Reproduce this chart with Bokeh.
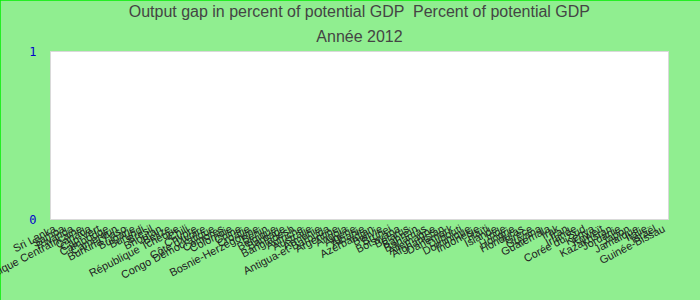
from bokeh.plotting import figure
from bokeh.models import Title, FixedTicker, ColumnDataSource, Range1d
from bokeh.embed import file_html
from bokeh.resources import INLINE

countries = [
    "Sri Lanka", "Samoa", "Rwanda", "République Centrafricaine", "Canada", "Cap-Vert",
    "Cambodge", "Cameroun", "Burkina Faso", "Bulgarie", "Burundi", "Brésil", "Bhoutan",
    "Belize", "République Tchèque", "Chili", "Chypre", "Côte d'Ivoire", "Congo Démocratique",
    "Comores", "Colombie", "Chine", "Croatie", "Bosnie-Herzégovine", "Bénin", "Belgique",
    "Barbade", "Bangladesh", "Autriche", "Australie", "Arménie", "Antigua-et-Barbuda",
    "Argentine", "Angola", "Algérie", "Albanie", "Azerbaïdjan", "Bolivie", "Brunei",
    "Botswana", "Bélarus", "Bahreïn", "Bahamas", "Allemagne", "Afghanistan", "Danemark",
    "Djibouti", "Dominique", "Indonésie", "Haïti", "Islande", "Inde", "Hongrie", "Honduras",
    "Grèce", "Guyana", "Guatemala", "Irak", "Iran", "Irlande", "Corée du Sud", "Kenya",
    "Koweït", "Kazakhstan", "Jordanie", "Japon", "Jamaïque", "Italie", "Israël",
    "Guinée-Bissau",
]
values = [0.0] * len(countries)

title_text = "Output gap in percent of potential GDP \u00a0Percent of potential GDP"
subtitle_text = "Année 2012"

src = ColumnDataSource(dict(x=countries, top=values))

p = figure(
    x_range=countries, y_range=Range1d(0, 1),
    width=700, height=300, output_backend="svg", toolbar_location=None,
    min_border_left=50, min_border_right=32, min_border_top=51, min_border_bottom=81,
)
p.styles = {"outline": "2px solid #00ee00", "outline-offset": "-2px"}
p.background_fill_color = "white"
p.border_fill_color = "#90ee90"
p.outline_line_color = "#d9d9d9"
p.outline_line_width = 1

p.vbar(x="x", top="top", width=0.7, source=src, fill_color="#7cb5ec", line_alpha=0)

sub = Title(text=subtitle_text, align="center", text_font="Liberation Sans",
            text_font_size="16px", text_color="#444444", text_font_style="normal",
            standoff=13)
ttl = Title(text=title_text, align="center", text_font="Liberation Sans",
            text_font_size="16px", text_color="#444444", text_font_style="normal",
            standoff=0)
p.title = None
p.add_layout(sub, "above")
p.add_layout(ttl, "above")

p.xgrid.visible = False
p.ygrid.visible = False

p.yaxis.ticker = FixedTicker(ticks=[0, 1])
p.yaxis.axis_line_color = None
p.yaxis.major_tick_line_color = None
p.yaxis.minor_tick_line_color = None
p.yaxis.major_label_text_color = "#0000cc"
p.yaxis.major_label_text_font = "DejaVu Sans Mono"
p.yaxis.major_label_text_font_size = "12px"
p.yaxis.major_label_standoff = 8

p.xaxis.axis_line_color = None
p.xaxis.major_tick_line_color = None
p.xaxis.minor_tick_line_color = None
p.xaxis.major_label_orientation = 0.48
p.xaxis.major_label_text_font = "Liberation Sans"
p.xaxis.major_label_text_font_size = "11px"
p.xaxis.major_label_text_color = "#222222"
p.xaxis.major_label_standoff = 2

open("out.html", "w").write(file_html(p, INLINE))
